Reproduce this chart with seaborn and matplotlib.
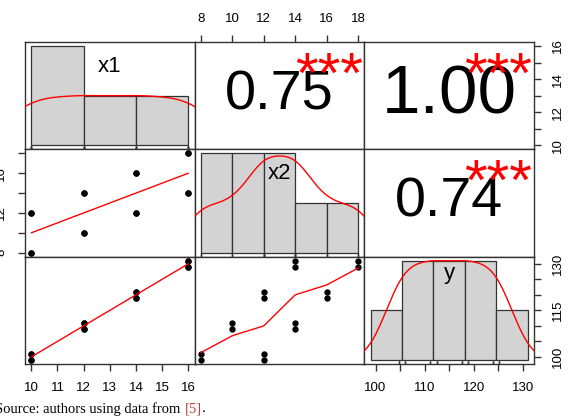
import numpy as np
import pandas as pd
import matplotlib
matplotlib.use("Agg")
import matplotlib.pyplot as plt
import seaborn as sns

# ---------------- data ----------------
x1 = [10, 10, 10, 10, 12, 12, 12, 12, 14, 14, 14, 14, 16, 16, 16, 16]
x2 = [8, 8, 12, 12, 10, 10, 14, 14, 12, 12, 16, 16, 14, 14, 18, 18]
y = [99, 101, 99, 101, 109, 111, 109, 111, 119, 121, 119, 121, 129, 131, 129, 131]
var_names = ["x1", "x2", "y"]

breaks_x1 = [10, 12, 14, 16]
breaks_x2 = [8, 10, 12, 14, 16, 18]
breaks_y = [90, 100, 110, 120, 130, 140]

signif_stars = ["***", "***", "***"]  # (x1,x2), (x1,y), (x2,y)

ticks_x1 = [10, 11, 12, 13, 14, 15, 16]
ticks_x2 = [8, 10, 12, 14, 16, 18]
ticks_y = [100, 105, 110, 115, 120, 125, 130]
labels_x1_bottom = ["10", "11", "12", "13", "14", "15", "16"]
labels_x1_right = ["10", "", "12", "", "14", "", "16"]
labels_x2_top = ["8", "10", "12", "14", "16", "18"]
labels_x2_left = ["8", "", "12", "", "16", ""]
labels_y_bottom = ["100", "", "110", "", "120", "", "130"]
labels_y_right = ["100", "", "", "115", "", "", "130"]

caption_main = "Source: authors using data from "
caption_ref = "[5]"
caption_end = "."

df = pd.DataFrame({"x1": x1, "x2": x2, "y": y})
breaks = {"x1": breaks_x1, "x2": breaks_x2, "y": breaks_y}

# ---------------- helpers ----------------
def rng(v, pad=0.04):
    lo, hi = float(np.min(v)), float(np.max(v))
    d = (hi - lo) * pad
    return lo - d, hi + d


def r_hist_counts(vals, br):
    br = np.asarray(br, float)
    idx = np.searchsorted(br, np.asarray(vals, float), side="left")
    idx = np.clip(idx, 1, len(br) - 1) - 1
    return np.bincount(idx, minlength=len(br) - 1)


def bw_nrd0(v):
    v = np.asarray(v, float)
    sd = v.std(ddof=1)
    q75, q25 = np.percentile(v, [75, 25])
    return 0.9 * min(sd, (q75 - q25) / 1.34) * len(v) ** -0.2


def lowest(x, y, n, xs, nleft, nright, userw, rw):
    rnge = x[n - 1] - x[0]
    h = max(xs - x[nleft], x[nright] - xs)
    h9, h1 = 0.999 * h, 0.001 * h
    w = np.zeros(n)
    a = 0.0
    j = nleft
    while j < n:
        r = abs(x[j] - xs)
        if r <= h9:
            w[j] = 1.0 if r <= h1 else (1 - (r / h) ** 3) ** 3
            if userw:
                w[j] *= rw[j]
            a += w[j]
        elif x[j] > xs:
            break
        j += 1
    nrt = j - 1
    if a <= 0:
        return None
    sl = slice(nleft, nrt + 1)
    w[sl] /= a
    if h > 0:
        aa = np.sum(w[sl] * x[sl])
        b = xs - aa
        c = np.sum(w[sl] * (x[sl] - aa) ** 2)
        if np.sqrt(c) > 0.001 * rnge:
            b /= c
            w[sl] *= b * (x[sl] - aa) + 1.0
    return float(np.sum(w[sl] * y[sl]))


def lowess_r(xv, yv, f=2 / 3, nsteps=3):
    o = np.argsort(np.asarray(xv, float), kind="stable")
    x = np.asarray(xv, float)[o]
    yy = np.asarray(yv, float)[o]
    n = len(x)
    ns = max(2, min(n, int(f * n + 1e-7)))
    delta = 0.01 * (x[-1] - x[0])
    rw = np.ones(n)
    ys = np.zeros(n)
    it = 1
    while it <= nsteps + 1:
        nleft, nright, last, i = 0, ns - 1, -1, 0
        while True:
            if nright < n - 1:
                if x[i] - x[nleft] > x[nright + 1] - x[i]:
                    nleft += 1
                    nright += 1
                    continue
            val = lowest(x, yy, n, x[i], nleft, nright, it > 1, rw)
            ys[i] = yy[i] if val is None else val
            if last < i - 1 and last >= 0:
                denom = x[i] - x[last]
                for j in range(last + 1, i):
                    al = (x[j] - x[last]) / denom
                    ys[j] = al * ys[i] + (1 - al) * ys[last]
            last = i
            cut = x[last] + delta
            i = last + 1
            while i < n:
                if x[i] > cut:
                    break
                if x[i] == x[last]:
                    ys[i] = ys[last]
                    last = i
                i += 1
            i = max(last + 1, i - 1)
            if last >= n - 1:
                break
        res = yy - ys
        sc = np.mean(np.abs(res))
        if it > nsteps:
            break
        ar = np.sort(np.abs(res))
        m1 = n // 2
        cmad = 3 * (ar[m1] + ar[n - m1 - 1]) if n % 2 == 0 else 6 * ar[m1]
        if cmad < 1e-7 * sc:
            break
        r = np.abs(res)
        rw = np.where(r <= 0.001 * cmad, 1.0,
                      np.where(r <= 0.999 * cmad, (1 - (r / cmad) ** 2) ** 2, 0.0))
        it += 1
    return x, ys


# ---------------- figure ----------------
sns.set_theme(style="white")
plt.rcParams["font.family"] = ["Liberation Sans", "DejaVu Sans"]
plt.rcParams["axes.edgecolor"] = "#333333"
plt.rcParams["axes.linewidth"] = 1.0

W, H = 569, 416
fig = plt.figure(figsize=(W / 100, H / 100), dpi=100)
fig.patch.set_facecolor("white")

L, R, T, B = 25, 534, 42, 364
cw = (R - L) / 3
rh = (B - T) / 3
TICK_FS = 9.5
SPINE = "#333333"


def rect(i, j):
    return [(L + j * cw) / W, 1 - (T + (i + 1) * rh) / H, cw / W, rh / H]


axes = {}
for i in range(3):
    for j in range(3):
        ax = fig.add_axes(rect(i, j))
        vx, vy = var_names[j], var_names[i]
        ax.set_xlim(*rng(df[vx]))
        ax.set_ylim(*rng(df[vy]))
        ax.set_xticks([])
        ax.set_yticks([])
        for s in ax.spines.values():
            s.set_color(SPINE)
            s.set_linewidth(1.0)
        axes[(i, j)] = ax

# lower panels: scatter + lowess
for i in range(3):
    for j in range(i):
        ax = axes[(i, j)]
        vx, vy = var_names[j], var_names[i]
        sns.scatterplot(data=df, x=vx, y=vy, ax=ax, color="black", s=21,
                        linewidth=0, legend=False)
        for c in ax.collections:
            c.set_clip_on(False)
        lx, ly = lowess_r(df[vx].values, df[vy].values)
        low = pd.DataFrame({"lx": lx, "ly": ly})
        sns.lineplot(data=low, x="lx", y="ly", ax=ax, color="red", lw=1.0,
                     estimator=None, sort=False, legend=False)
        ax.set_xlim(*rng(df[vx]))
        ax.set_ylim(*rng(df[vy]))
        ax.set_xlabel("")
        ax.set_ylabel("")

# diagonal panels: histogram + density + rug + label
label_base = {"x1": 0.717, "x2": 0.722, "y": 0.79}
for k, v in enumerate(var_names):
    ax2 = fig.add_axes(rect(k, k), label="hist_" + v)
    br = np.asarray(breaks[v], float)
    counts = r_hist_counts(df[v], br)
    centers = (br[:-1] + br[1:]) / 2
    hd = pd.DataFrame({"mid": centers, "cnt": counts.astype(float)})
    sns.histplot(data=hd, x="mid", weights="cnt", bins=list(br), stat="density",
                 ax=ax2, color="#d3d3d3", edgecolor="#333333", linewidth=0.9,
                 alpha=1)
    dens = counts / (counts.sum() * np.diff(br))
    sd = df[v].std(ddof=1)
    sns.kdeplot(data=df, x=v, bw_method=bw_nrd0(df[v]) / sd, cut=3, ax=ax2,
                color="red", lw=1.0)
    sns.rugplot(data=df, x=v, ax=ax2, height=0.03, color="#333333", lw=0.8)
    lo, hi = br[0], br[-1]
    ax2.set_xlim(lo - 0.04 * (hi - lo), hi + 0.04 * (hi - lo))
    dmax = dens.max()
    ax2.set_ylim(-0.04 * dmax, dmax * 1.04)
    ax2.set_axis_off()
    ax2.text(0.5, label_base[v], v, transform=ax2.transAxes, ha="center",
             va="baseline", fontsize=16, color="black")

# upper panels: correlation text + stars
star_idx = {(0, 1): 0, (0, 2): 1, (1, 2): 2}
BIG = 50
for i in range(3):
    for j in range(i + 1, 3):
        ax = axes[(i, j)]
        r = np.corrcoef(df[var_names[j]], df[var_names[i]])[0, 1]
        txt = f"{r:.2f}"
        ax.text(0.5, 0.5, txt, transform=ax.transAxes, ha="center", va="center",
                fontsize=BIG * (abs(r) + 0.3) / 1.3, color="black")
        ax.text(0.79, 0.53, signif_stars[star_idx[(i, j)]], transform=ax.transAxes,
                ha="center", va="baseline", fontsize=42, color="red", clip_on=False)

# outer axes
tk = dict(length=5, width=1.0, color=SPINE, labelsize=TICK_FS, labelcolor="black")

ax = axes[(2, 0)]
ax.set_xticks(ticks_x1)
ax.set_xticklabels(labels_x1_bottom)
ax.tick_params(axis="x", bottom=True, pad=8, **tk)

ax = axes[(0, 1)]
ax.set_xticks(ticks_x2)
ax.set_xticklabels(labels_x2_top)
ax.tick_params(axis="x", top=True, bottom=False, labeltop=True, labelbottom=False,
               pad=7, **tk)

ax = axes[(2, 2)]
ax.set_xticks(ticks_y)
ax.set_xticklabels(labels_y_bottom)
ax.tick_params(axis="x", bottom=True, pad=8, **tk)
ax.set_yticks(ticks_y)
ax.set_yticklabels(labels_y_right, rotation=90, va="center")
ax.tick_params(axis="y", left=False, right=True, labelleft=False, labelright=True,
               pad=8, **tk)

ax = axes[(0, 2)]
ax.set_yticks(ticks_x1)
ax.set_yticklabels(labels_x1_right, rotation=90, va="center")
ax.tick_params(axis="y", left=False, right=True, labelleft=False, labelright=True,
               pad=8, **tk)

ax = axes[(1, 0)]
ax.set_yticks(ticks_x2)
ax.set_yticklabels(labels_x2_left, rotation=90, va="center")
ax.tick_params(axis="y", left=True, labelleft=True, pad=8, **tk)

# caption
cap_fs = 10.5
serif = ["Liberation Serif", "DejaVu Serif"]
t1 = fig.text(-0.008, 3.5 / H, caption_main, fontsize=cap_fs, family=serif,
              color="black", ha="left", va="baseline")
fig.canvas.draw()
rend = fig.canvas.get_renderer()
bb = t1.get_window_extent(rend)
t2 = fig.text(bb.x1 / W, 3.5 / H, caption_ref, fontsize=cap_fs, family=serif,
              color="#b8433a", ha="left", va="baseline")
bb2 = t2.get_window_extent(rend)
fig.text(bb2.x1 / W, 3.5 / H, caption_end, fontsize=cap_fs, family=serif,
         color="black", ha="left", va="baseline")

fig.savefig("out.png", dpi=100, facecolor="white")
